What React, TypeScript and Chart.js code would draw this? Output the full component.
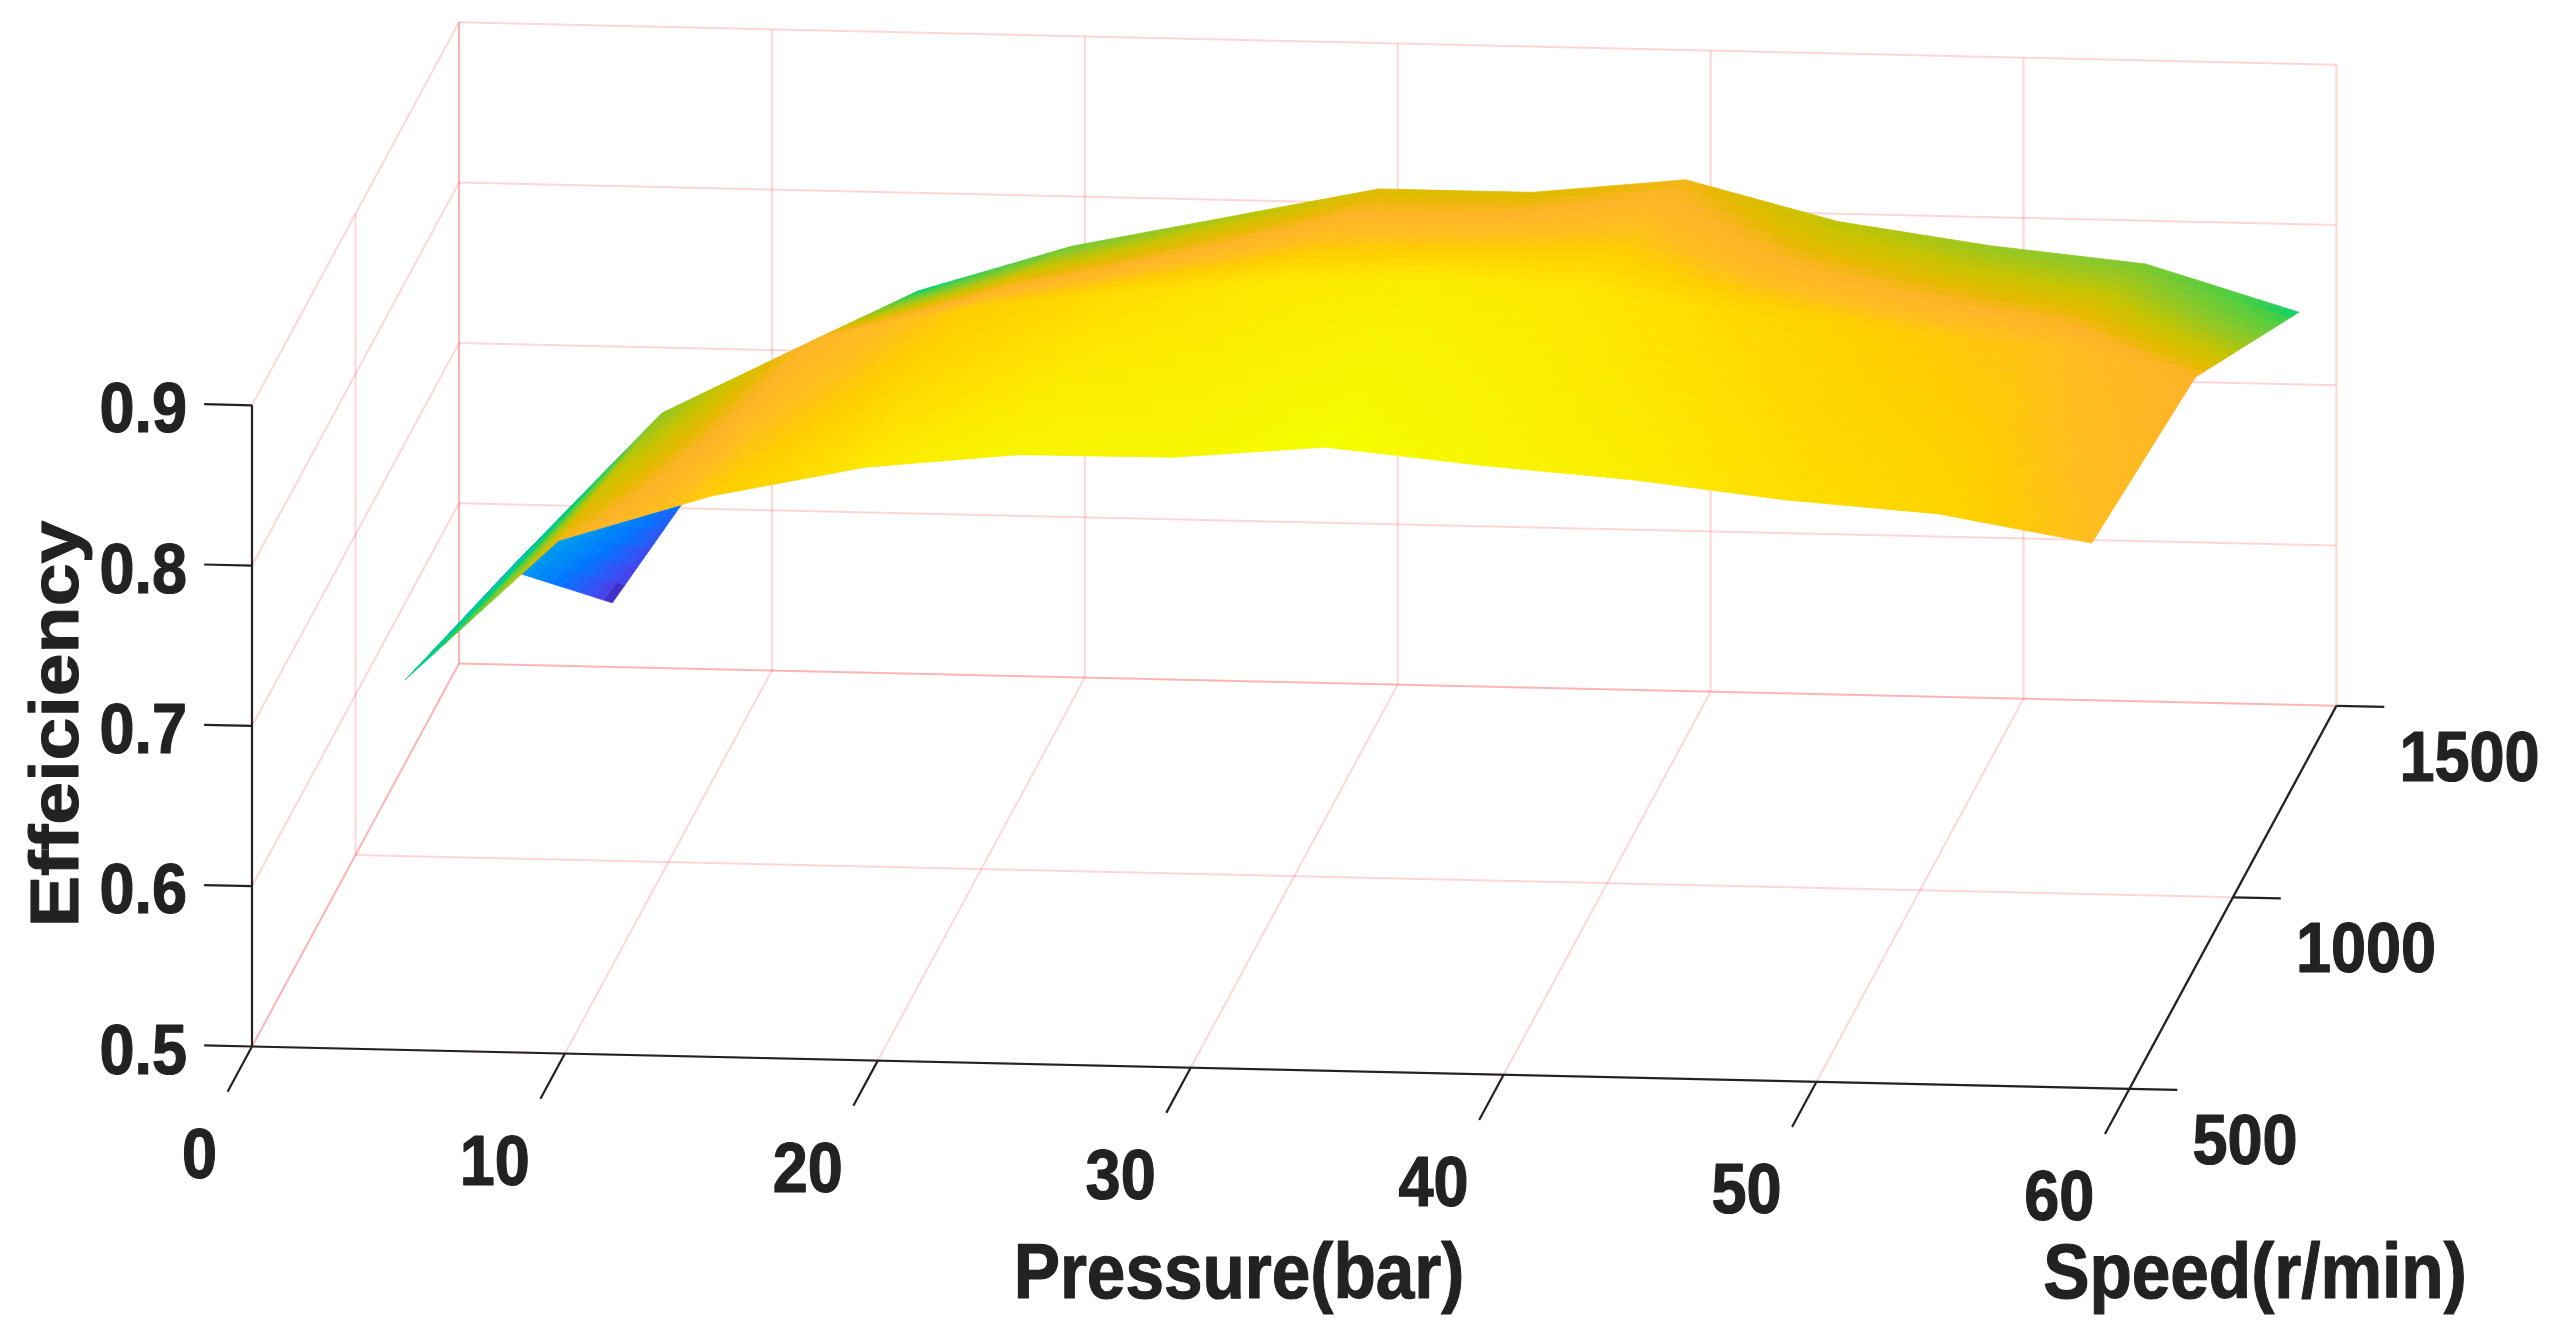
import React, { useEffect, useRef } from "react";
import { Chart, registerables } from "chart.js";

Chart.register(...registerables);

// ---- data ----
const pressureTicks = [0, 10, 20, 30, 40, 50, 60];
const speedTicks = [500, 1000, 1500];
const efficiencyTicks = [0.5, 0.6, 0.7, 0.8, 0.9];
const pressureLabels = ["0", "10", "20", "30", "40", "50", "60"];
const speedLabels = ["500", "1000", "1500"];
const efficiencyLabels = ["0.5", "0.6", "0.7", "0.8", "0.9"];

const surfacePressure = [4.9, 9.8, 14.7, 19.6, 24.5, 29.4, 34.3, 39.2, 44.1, 49, 53.9, 58.8];
const surfaceSpeed = [500, 1000, 1500];
const efficiencyAt500 = [0.731, 0.82, 0.85, 0.87, 0.88, 0.8805, 0.889, 0.88, 0.873, 0.8626, 0.856, 0.84];
const efficiencyAt1000 = [0.68, 0.78, 0.828, 0.85, 0.862, 0.87, 0.873, 0.869, 0.859, 0.85, 0.842, 0.824];
const efficiencyAt1500 = [0.54, 0.678, 0.739, 0.769, 0.789, 0.809, 0.809, 0.819, 0.795, 0.782, 0.773, 0.745];

// colour map: efficiency -> rgb
const colourStops: [number, number, number, number][] = [
  [0.54, 60, 30, 165],
  [0.565, 70, 70, 240],
  [0.62, 0, 120, 255],
  [0.68, 0, 160, 235],
  [0.7, 0, 190, 200],
  [0.73, 0, 203, 140],
  [0.745, 0, 210, 115],
  [0.758, 75, 206, 65],
  [0.78, 140, 200, 40],
  [0.8, 200, 195, 0],
  [0.815, 230, 185, 0],
  [0.825, 255, 180, 40],
  [0.84, 255, 190, 30],
  [0.85, 255, 205, 0],
  [0.865, 255, 225, 0],
  [0.875, 250, 240, 0],
  [0.89, 245, 255, 0],
];

// ---- camera of the 3-D view: world -> plane of the chart's two linear scales ----
const view = { ox: 252, oy: 1046.5, px: 31.29, py: 0.706, sx: 0.207, sy: -0.383, ez: -1603 };
const project = (p: number, s: number, e: number) => ({
  x: view.ox + view.px * p + view.sx * (s - 500),
  y: view.oy + view.py * p + view.sy * (s - 500) + view.ez * (e - 0.5),
});

const colourOf = (e: number) => {
  const st = colourStops;
  if (e <= st[0][0]) return `rgb(${st[0][1]},${st[0][2]},${st[0][3]})`;
  for (let i = 1; i < st.length; i++) {
    if (e <= st[i][0]) {
      const t = (e - st[i - 1][0]) / (st[i][0] - st[i - 1][0]);
      const c = [1, 2, 3].map((k) => Math.round(st[i - 1][k] + (st[i][k] - st[i - 1][k]) * t));
      return `rgb(${c[0]},${c[1]},${c[2]})`;
    }
  }
  const l = st[st.length - 1];
  return `rgb(${l[1]},${l[2]},${l[3]})`;
};

const GRID = "rgba(255,0,0,0.16)";
const INK = "#222222";
const line = (pts: { x: number; y: number }[], color: string, width: number) => ({
  type: "scatter" as const,
  data: pts,
  showLine: true,
  parsing: false,
  pointRadius: 0,
  borderColor: color,
  borderWidth: width,
  fill: false,
  tension: 0,
  clip: false,
});

function buildDatasets() {
  const paint: any[] = [];
  const P = pressureTicks[0], P1 = pressureTicks[pressureTicks.length - 1];
  const S0 = speedTicks[0], S1 = speedTicks[speedTicks.length - 1];
  const E0 = efficiencyTicks[0], E1 = efficiencyTicks[efficiencyTicks.length - 1];

  // back wall
  for (const e of efficiencyTicks) paint.push(line([project(P, S1, e), project(P1, S1, e)], GRID, 2));
  for (const p of pressureTicks) paint.push(line([project(p, S1, E0), project(p, S1, E1)], GRID, 2));
  // left wall
  for (const e of efficiencyTicks) paint.push(line([project(P, S0, e), project(P, S1, e)], GRID, 2));
  for (const s of speedTicks) paint.push(line([project(P, s, E0), project(P, s, E1)], GRID, 2));
  // floor
  for (const p of pressureTicks) paint.push(line([project(p, S0, E0), project(p, S1, E0)], GRID, 2));
  for (const s of speedTicks) paint.push(line([project(P, s, E0), project(P1, s, E0)], GRID, 2));

  // surface, painted from the far row to the near row, each patch subdivided for shading
  const rows = [efficiencyAt500, efficiencyAt1000, efficiencyAt1500];
  const N = 12;
  for (let r = rows.length - 2; r >= 0; r--) {
    for (let c = 0; c < surfacePressure.length - 1; c++) {
      const corner = (rr: number, cc: number) =>
        project(surfacePressure[cc], surfaceSpeed[rr], rows[rr][cc]);
      const a = corner(r, c), b = corner(r, c + 1), d = corner(r + 1, c), f = corner(r + 1, c + 1);
      const ea = rows[r][c], eb = rows[r][c + 1], ed = rows[r + 1][c], ef = rows[r + 1][c + 1];
      const at = (u: number, v: number) => ({
        x: (1 - u) * (1 - v) * a.x + u * (1 - v) * b.x + (1 - u) * v * d.x + u * v * f.x,
        y: (1 - u) * (1 - v) * a.y + u * (1 - v) * b.y + (1 - u) * v * d.y + u * v * f.y,
      });
      for (let j = N - 1; j >= 0; j--) {
        for (let i = 0; i < N; i++) {
          const u0 = i / N, u1 = (i + 1) / N, v0 = j / N, v1 = (j + 1) / N;
          const um = (u0 + u1) / 2, vm = (v0 + v1) / 2;
          const e = (1 - um) * (1 - vm) * ea + um * (1 - vm) * eb + (1 - um) * vm * ed + um * vm * ef;
          const col = colourOf(e);
          paint.push({
            type: "scatter" as const,
            data: [at(u0, v0), at(u1, v0), at(u1, v1), at(u0, v1), at(u0, v0)],
            showLine: true,
            parsing: false,
            pointRadius: 0,
            borderColor: col,
            borderWidth: 0.8,
            backgroundColor: col,
            fill: "shape",
            tension: 0,
            clip: false,
          });
        }
      }
    }
  }

  // black axes and ticks
  paint.push(line([project(P, S0, E0), project(P1, S0, E0)], INK, 2.2));
  paint.push(line([project(P1, S0, E0), project(P1, S1, E0)], INK, 2.2));
  paint.push(line([project(P, S0, E0), project(P, S0, E1)], INK, 2.2));
  for (const p of pressureTicks)
    paint.push(line([project(p, S0, E0), project(p, S0 - 118, E0)], INK, 2.2));
  for (const s of speedTicks)
    paint.push(line([project(P1, s, E0), project(P1 + 1.53, s, E0)], INK, 2.2));
  for (const e of efficiencyTicks)
    paint.push(line([project(P, S0, e), project(P - 1.53, S0, e)], INK, 2.2));

  // Chart.js paints dataset 0 last
  return paint.reverse();
}

const textPlugin = {
  id: "axisText",
  afterDraw(chart: any) {
    const { ctx, scales } = chart;
    const squeeze = 0.9;
    const put = (t: string, wx: number, wy: number, align: CanvasTextAlign, font: string, rotate = false) => {
      ctx.save();
      ctx.translate(scales.x.getPixelForValue(wx), scales.y.getPixelForValue(wy));
      ctx.scale(squeeze, 1);
      if (rotate) ctx.rotate(-Math.PI / 2);
      ctx.font = font;
      ctx.fillStyle = INK;
      ctx.strokeStyle = INK;
      ctx.lineWidth = 1.2;
      ctx.lineJoin = "round";
      ctx.textAlign = align;
      ctx.textBaseline = "alphabetic";
      ctx.fillText(t, 0, 0);
      ctx.strokeText(t, 0, 0);
      ctx.restore();
    };
    const tickFont = 'bold 70px "Liberation Sans"';
    const titleFont = 'bold 77px "Liberation Sans"';
    pressureTicks.forEach((p, i) => {
      const q = project(p, 500, 0.5);
      put(pressureLabels[i], q.x - 35, q.y + 131, "right", tickFont);
    });
    speedTicks.forEach((s, i) => {
      const q = project(60, s, 0.5);
      put(speedLabels[i], q.x + 63, q.y + 75, "left", tickFont);
    });
    efficiencyTicks.forEach((e, i) => {
      const q = project(0, 500, e);
      put(efficiencyLabels[i], q.x - 65, q.y + 27, "right", tickFont);
    });
    put("Pressure(bar)", 1239, 1298, "center", titleFont);
    put("Speed(r/min)", 2255, 1298, "center", titleFont);
    put("Effeiciency", 78, 724, "center", titleFont, true);
  },
};

export default function App() {
  const ref = useRef<HTMLCanvasElement>(null);
  useEffect(() => {
    const chart = new Chart(ref.current!, {
      type: "scatter",
      data: { datasets: buildDatasets() },
      plugins: [textPlugin],
      options: {
        animation: false,
        responsive: false,
        devicePixelRatio: 1,
        events: [],
        layout: { padding: 0 },
        plugins: { legend: { display: false }, tooltip: { enabled: false }, title: { display: false } },
        scales: {
          x: { type: "linear", min: 0, max: 2555, display: false },
          y: { type: "linear", min: 0, max: 1329, reverse: true, display: false },
        },
      },
    } as any);
    return () => chart.destroy();
  }, []);
  return (
    <div style={{ position: "fixed", left: 0, top: 0, width: 2555, height: 1329, background: "#fff" }}>
      <canvas ref={ref} width={2555} height={1329} style={{ display: "block" }} />
    </div>
  );
}
